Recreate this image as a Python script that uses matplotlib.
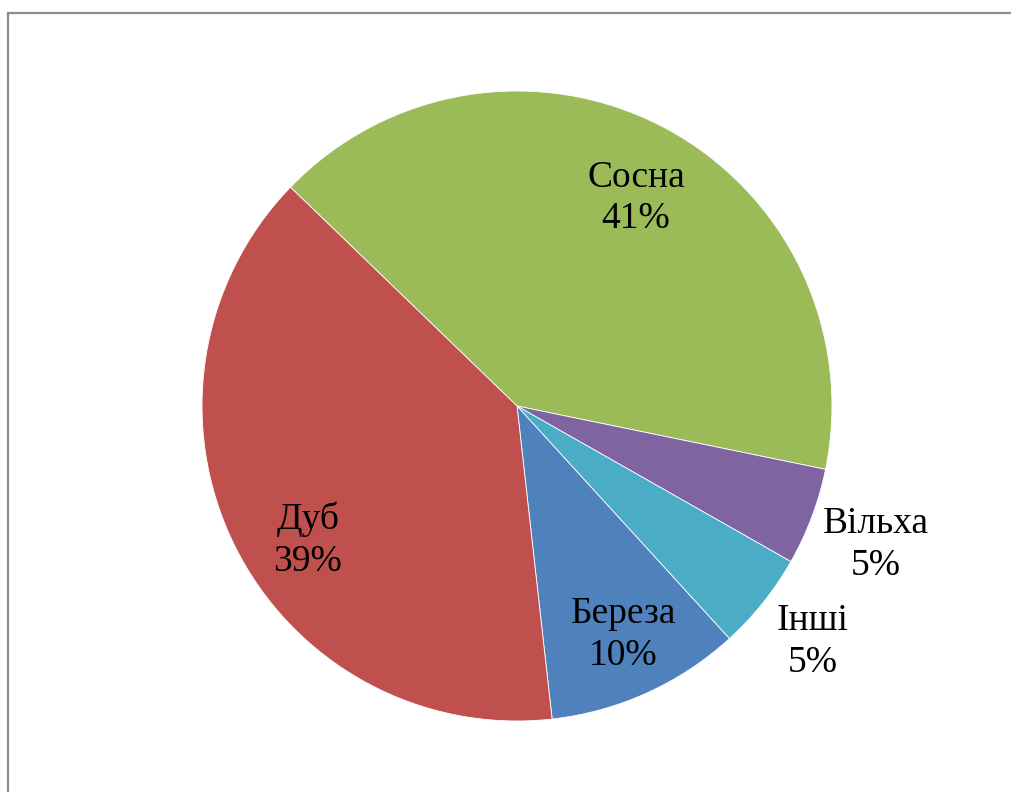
import numpy as np
import matplotlib
matplotlib.use("Agg")
import matplotlib.pyplot as plt
from matplotlib.patches import Rectangle

# Species composition of the stand, percent
species = ["Сосна", "Вільха", "Інші", "Береза", "Дуб"]
shares = [41, 5, 5, 10, 39]
colors = ["#9BBB59", "#8064A2", "#4BACC6", "#4F81BD", "#C0504D"]
# label placement: distance from centre (in radii) and angular nudge (deg)
label_radius = [0.76, 1.22, 1.20, 0.80, 0.79]
label_nudge = [-2.0, -0.5, 0.0, 0.5, 6.5]

W, H = 1011, 792
cx, cy, R = 517, 406, 315

fig = plt.figure(figsize=(W / 100, H / 100), dpi=100)
fig.patch.set_facecolor("white")
ax = fig.add_axes([0, 0, 1, 1])

wedges, _ = ax.pie(
    shares,
    colors=colors,
    startangle=136,
    counterclock=False,
    radius=1.0,
    wedgeprops=dict(edgecolor="white", linewidth=0.6),
)

total = sum(shares)
for w, name, val, r, d in zip(wedges, species, shares, label_radius, label_nudge):
    mid = np.deg2rad((w.theta1 + w.theta2) / 2 + d)
    ax.text(r * np.cos(mid), r * np.sin(mid),
            f"{name}\n{round(100 * val / total)}%",
            ha="center", va="center", fontsize=27,
            family="Liberation Serif", linespacing=1.28, color="black")

ax.set_xlim(-cx / R, (W - cx) / R)
ax.set_ylim(-(H - cy) / R, cy / R)
ax.set_aspect("auto")
ax.axis("off")

# chart-area border (runs past the right and bottom edges)
fig.add_artist(Rectangle((7.5 / W, -0.05), 1.1, (H - 13) / H + 0.05,
                         transform=fig.transFigure, fill=False,
                         edgecolor="#8C8C8C", linewidth=1.6))

fig.savefig("out.png", dpi=100, facecolor="white")
